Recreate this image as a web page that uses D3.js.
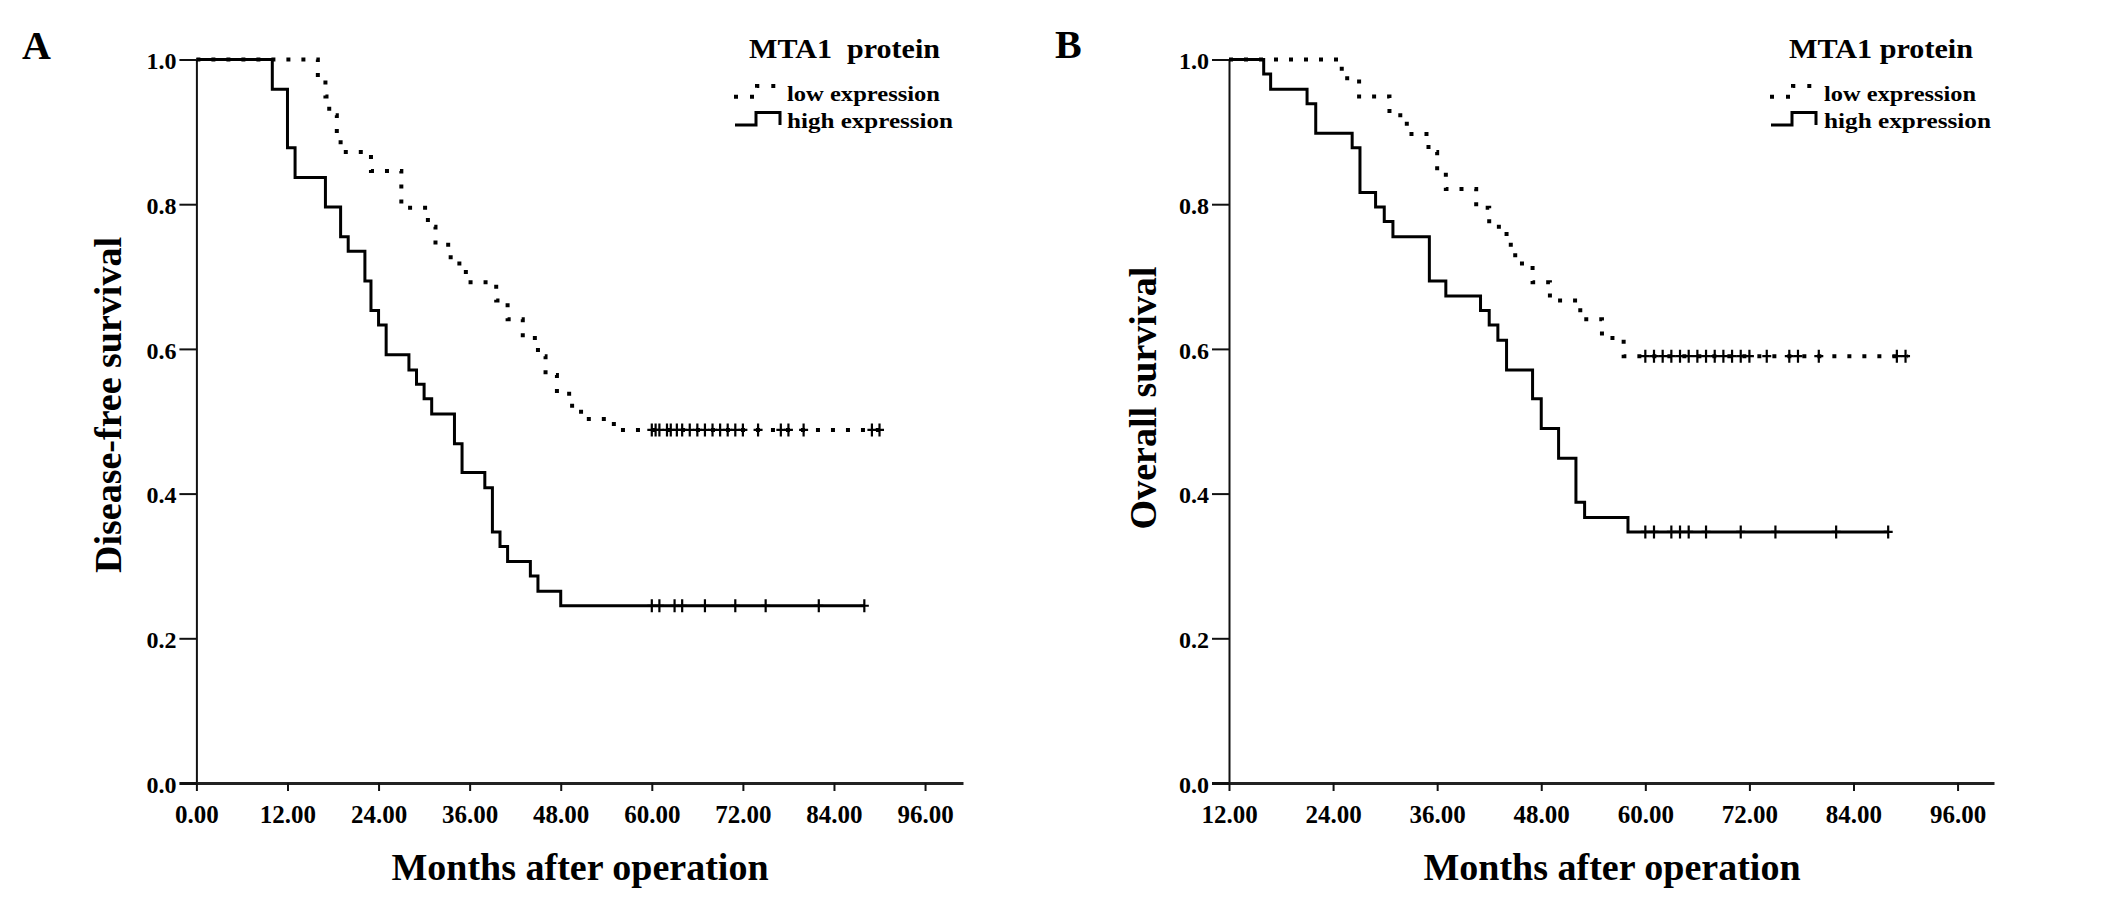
<!DOCTYPE html>
<html>
<head>
<meta charset="utf-8">
<script src="https://cdn.jsdelivr.net/npm/d3@7"></script>
<style>
  body { margin: 0; background: #fff; }
  text { font-family: "Liberation Serif", "Times New Roman", serif; font-weight: bold; }
</style>
</head>
<body>
<svg id="chart" width="2126" height="901"></svg>
<script>
// tick values
const survTicks = [0, 0.2, 0.4, 0.6, 0.8, 1.0];
const monthTicksA = [0, 12, 24, 36, 48, 60, 72, 84, 96];
const monthTicksB = [12, 24, 36, 48, 60, 72, 84, 96];

// A - disease-free survival (months of each drop, survival after the drop)
const dfsLowTimes = [16, 17, 17.5, 18.5, 19, 23, 27, 30.5, 31.5, 33.5, 35.5, 39.5, 41, 43, 45, 46, 47.5, 49.5, 51, 55];
const dfsLowSurv = [0.974, 0.949, 0.923, 0.897, 0.872, 0.846, 0.795, 0.769, 0.744, 0.718, 0.692, 0.667, 0.641, 0.615, 0.590, 0.564, 0.538, 0.513, 0.503, 0.488];
const dfsLowCensor = [60, 60.5, 61, 62, 62.5, 63.3, 64, 65, 66, 67, 68, 69, 70, 71, 72, 74, 77, 78, 80, 89, 90];
const dfsLowEnd = 90.5;

const dfsHighTimes = [10, 12, 13, 17, 19, 20, 22.2, 23, 24, 25, 28, 29, 30, 31, 34, 35, 38, 39, 40, 41, 44, 45, 48];
const dfsHighSurv = [0.959, 0.878, 0.837, 0.796, 0.755, 0.735, 0.694, 0.653, 0.633, 0.592, 0.571, 0.551, 0.531, 0.510, 0.469, 0.429, 0.408, 0.347, 0.327, 0.306, 0.286, 0.265, 0.245];
const dfsHighCensor = [60, 61, 63, 64, 67, 71, 75, 82, 88];
const dfsHighEnd = 88;

// B - overall survival
const osLowTimes = [25, 27, 30.5, 32.5, 35, 36, 37, 40.5, 42, 44, 45, 47, 49, 52.5, 55, 57.5];
const osLowSurv = [0.974, 0.949, 0.923, 0.897, 0.872, 0.846, 0.821, 0.795, 0.769, 0.744, 0.718, 0.692, 0.667, 0.641, 0.615, 0.590];
const osLowCensor = [60, 61, 62, 63, 64, 65, 66, 67, 68, 69, 70, 71, 72, 74, 76.6, 77.6, 80, 89, 90];
const osLowEnd = 90.3;

const osHighTimes = [16, 16.8, 21, 22, 26.2, 27.1, 28.9, 29.9, 30.9, 35.1, 37, 41, 42, 43, 44, 47, 48, 50, 52, 53, 58];
const osHighSurv = [0.980, 0.959, 0.939, 0.898, 0.878, 0.816, 0.796, 0.776, 0.755, 0.694, 0.673, 0.653, 0.633, 0.612, 0.571, 0.531, 0.490, 0.449, 0.388, 0.367, 0.347];
const osHighCensor = [60, 61, 63, 64, 65, 67, 71, 75, 82, 88];
const osHighEnd = 88;

const legendTitle = ["MTA1  protein", "MTA1 protein"];
const groupNames = ["low expression", "high expression"];

const panels = [
  {
    label: "A", labelX: 22, labelY: 59,
    x0: 196.4, x1: 963, domain: [0, 101], ticks: monthTicksA,
    yTitle: "Disease-free survival", yTitleX: 121, yTitleY: 405,
    xTitleX: 580,
    low: { times: dfsLowTimes, surv: dfsLowSurv, censor: dfsLowCensor, end: dfsLowEnd },
    high: { times: dfsHighTimes, surv: dfsHighSurv, censor: dfsHighCensor, end: dfsHighEnd },
    leg: { sym: 734, title: 749, titleLen: 191, text: 787, lowLen: 153, highLen: 166, legTitle: legendTitle[0] }
  },
  {
    label: "B", labelX: 1055, labelY: 58,
    x0: 1229, x1: 1994, domain: [12, 100.2], ticks: monthTicksB,
    yTitle: "Overall survival", yTitleX: 1156, yTitleY: 398,
    xTitleX: 1612,
    low: { times: osLowTimes, surv: osLowSurv, censor: osLowCensor, end: osLowEnd },
    high: { times: osHighTimes, surv: osHighSurv, censor: osHighCensor, end: osHighEnd },
    leg: { sym: 1770, title: 1789, titleLen: 184, text: 1824, lowLen: 152, highLen: 167, legTitle: legendTitle[1] }
  }
];

const svg = d3.select("#chart");

const y = d3.scaleLinear().domain([0, 1]).range([783, 59.5]);

function stepPoints(start, s) {
  const pts = [[start, 1]];
  s.times.forEach((t, i) => pts.push([t, s.surv[i]]));
  pts.push([s.end, s.surv[s.surv.length - 1]]);
  return pts;
}

function survAt(t, s) {
  let v = 1;
  s.times.forEach((tt, i) => { if (tt <= t) v = s.surv[i]; });
  return v;
}

panels.forEach(p => {
  const g = svg.append("g");
  const x = d3.scaleLinear().domain(p.domain).range([p.x0, p.x1]);

  g.append("text")
    .attr("x", p.labelX)
    .attr("y", p.labelY)
    .attr("font-size", 40)
    .text(p.label);

  // y axis
  g.append("g")
    .attr("transform", `translate(${p.x0},0)`)
    .call(d3.axisLeft(y).tickValues(survTicks).tickFormat(d3.format(".1f"))
      .tickSize(17).tickPadding(3).tickSizeOuter(0))
    .call(a => {
      a.select(".domain").attr("stroke", "#111").attr("stroke-width", 2);
      a.selectAll(".tick line").attr("stroke", "#111")
        .attr("stroke-width", d => d === 0 ? 3 : 2);
      a.selectAll(".tick text").attr("font-size", 24).attr("dy", "0.38em");
    });

  // x axis
  g.append("g")
    .attr("transform", `translate(0,${y(0)})`)
    .call(d3.axisBottom(x).tickValues(p.ticks).tickFormat(d3.format(".2f"))
      .tickSize(8).tickSizeOuter(0))
    .call(a => {
      a.select(".domain").attr("stroke", "#222").attr("stroke-width", 3);
      a.selectAll(".tick line").attr("stroke", "#111").attr("stroke-width", 2);
      a.selectAll(".tick text").attr("font-size", 25).attr("y", 40).attr("dy", 0);
    });

  g.append("text")
    .attr("x", p.xTitleX)
    .attr("y", 880)
    .attr("text-anchor", "middle")
    .attr("font-size", 38)
    .text("Months after operation");

  g.append("text")
    .attr("transform", `translate(${p.yTitleX},${p.yTitleY}) rotate(-90)`)
    .attr("text-anchor", "middle")
    .attr("font-size", 38)
    .text(p.yTitle);

  const line = d3.line()
    .x(d => x(d[0]))
    .y(d => y(d[1]))
    .curve(d3.curveStepAfter);

  // low expression - dotted
  g.append("path")
    .attr("d", line(stepPoints(p.domain[0], p.low)))
    .attr("fill", "none")
    .attr("stroke", "#000")
    .attr("stroke-width", 4)
    .attr("stroke-dasharray", "4,11");

  // high expression - solid
  g.append("path")
    .attr("d", line(stepPoints(p.domain[0], p.high)))
    .attr("fill", "none")
    .attr("stroke", "#000")
    .attr("stroke-width", 3);

  // censor marks
  [p.low, p.high].forEach(s => {
    g.selectAll(null)
      .data(s.censor)
      .join("path")
      .attr("d", t => {
        const cx = x(t), cy = y(survAt(t, s));
        return `M${cx},${cy - 6.5}v13M${cx - 4.5},${cy}h9`;
      })
      .attr("stroke", "#000")
      .attr("stroke-width", 2.2)
      .attr("fill", "none");
  });

  // legend
  const L = p.leg;
  g.append("text")
    .attr("x", L.title)
    .attr("y", 58)
    .attr("font-size", 27)
    .attr("textLength", L.titleLen)
    .attr("lengthAdjust", "spacingAndGlyphs")
    .style("white-space", "pre")
    .text(L.legTitle);

  g.append("path")
    .attr("d", `M${L.sym},96.7H${L.sym + 23}V86H${L.sym + 47}`)
    .attr("fill", "none")
    .attr("stroke", "#000")
    .attr("stroke-width", 4)
    .attr("stroke-dasharray", "4,12");

  g.append("path")
    .attr("d", `M${L.sym + 1},125H${L.sym + 22}V112.5H${L.sym + 46}V125`)
    .attr("fill", "none")
    .attr("stroke", "#000")
    .attr("stroke-width", 3);

  g.append("text")
    .attr("x", L.text)
    .attr("y", 101)
    .attr("font-size", 22)
    .attr("textLength", L.lowLen)
    .attr("lengthAdjust", "spacingAndGlyphs")
    .text(groupNames[0]);

  g.append("text")
    .attr("x", L.text)
    .attr("y", 127.5)
    .attr("font-size", 22)
    .attr("textLength", L.highLen)
    .attr("lengthAdjust", "spacingAndGlyphs")
    .text(groupNames[1]);
});
</script>
</body>
</html>
